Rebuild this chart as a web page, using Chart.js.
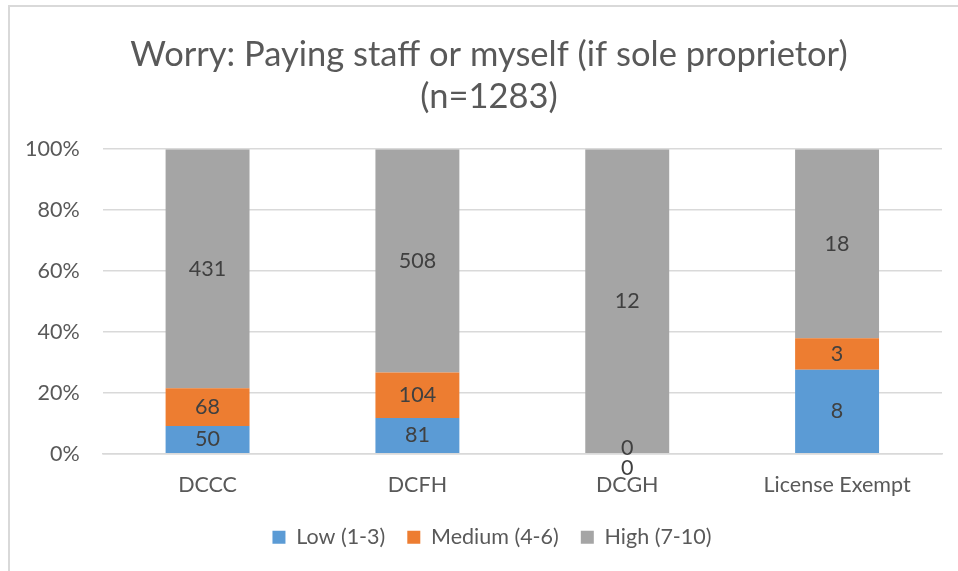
<!DOCTYPE html>
<html>
<head>
<meta charset="utf-8">
<script src="https://cdn.jsdelivr.net/npm/chart.js@4.4.1/dist/chart.umd.min.js"></script>
<style>
  html, body { margin: 0; padding: 0; background: #fff; }
  #wrap { position: absolute; left: 0; top: 0; width: 958px; height: 571px; }
  #frame { position: absolute; left: 8px; top: 5px; width: 960px; height: 580px;
           border-left: 2px solid #d9d9d9; border-top: 2px solid #d9d9d9; pointer-events: none; }
</style>
</head>
<body>
<div id="wrap"><canvas id="c" width="958" height="571"></canvas></div>
<div id="frame"></div>
<script>
const categories = ["DCCC", "DCFH", "DCGH", "License Exempt"];
const seriesNames = ["Low (1-3)", "Medium (4-6)", "High (7-10)"];
const lowCounts = [50, 81, 0, 8];
const mediumCounts = [68, 104, 0, 3];
const highCounts = [431, 508, 12, 18];
const yTicks = [0, 20, 40, 60, 80, 100];
const colors = ["#5b9bd5", "#ed7d31", "#a5a5a5"];

const allCounts = [lowCounts, mediumCounts, highCounts];
const totals = categories.map((_, i) => lowCounts[i] + mediumCounts[i] + highCounts[i]);
const toPct = arr => arr.map((v, i) => totals[i] ? v / totals[i] * 100 : 0);

const FONT = "Lato, 'Liberation Sans', sans-serif";

const labelPlugin = {
  id: 'countLabels',
  afterDatasetsDraw(chart) {
    const ctx = chart.ctx;
    ctx.save();
    ctx.font = "21.5px " + FONT;
    ctx.fillStyle = "#404040";
    ctx.textAlign = "center";
    ctx.textBaseline = "middle";
    const zeroCount = categories.map(() => 0);
    chart.data.datasets.forEach((ds, di) => {
      const meta = chart.getDatasetMeta(di);
      meta.data.forEach((el, i) => {
        const v = ds.counts[i];
        let y;
        if (v === 0) {
          y = el.base - 6 + zeroCount[i] * 20;
          zeroCount[i]++;
        } else {
          y = (el.y + el.base) / 2;
        }
        ctx.fillText(String(v), el.x, y);
      });
    });
    ctx.restore();
  }
};

const shiftPlugin = {
  id: 'shiftBlocks',
  afterLayout(chart) {
    const lg = chart.legend;
    if (lg) { lg.left += 20; lg.right += 20; lg.top -= 11; lg.bottom -= 11; }
    const tb = chart.titleBlock;
    if (tb) { tb.left += 17; tb.right += 17; }
  }
};

new Chart(document.getElementById('c'), {
  type: 'bar',
  data: {
    labels: categories,
    datasets: seriesNames.map((name, k) => ({
      label: name,
      data: toPct(allCounts[k]),
      counts: allCounts[k],
      backgroundColor: colors[k],
      borderWidth: 0,
      categoryPercentage: 1,
      barPercentage: 0.4
    }))
  },
  options: {
    responsive: false,
    animation: false,
    devicePixelRatio: 1,
    layout: { padding: { left: 2, right: 16, top: 0, bottom: 2 } },
    plugins: {
      tooltip: { enabled: false },
      title: {
        display: true,
        text: ["Worry: Paying staff or myself (if sole proprietor)", "(n=1283)"],
        color: "#595959",
        font: { family: FONT, size: 34.5, weight: 'normal', lineHeight: 1.22 },
        padding: { top: 34, bottom: 31 }
      },
      legend: {
        position: 'bottom',
        labels: {
          color: "#595959",
          font: { family: FONT, size: 21.5 },
          boxWidth: 13,
          boxHeight: 13,
          padding: 22
        }
      }
    },
    scales: {
      x: {
        stacked: true,
        grid: { display: false, drawTicks: false },
        border: { display: true, color: "#d9d9d9", width: 1.5 },
        ticks: { color: "#595959", font: { family: FONT, size: 21.5 }, padding: 18 }
      },
      y: {
        stacked: true,
        min: 0, max: 100,
        afterBuildTicks(axis) { axis.ticks = yTicks.map(v => ({ value: v })); },
        grid: { color: "#d9d9d9", lineWidth: 1.5, drawTicks: false },
        border: { display: false },
        ticks: { color: "#595959", font: { family: FONT, size: 21.5 }, padding: 23,
                 callback: v => v + "%" }
      }
    }
  },
  plugins: [labelPlugin, shiftPlugin]
});
</script>
</body>
</html>
